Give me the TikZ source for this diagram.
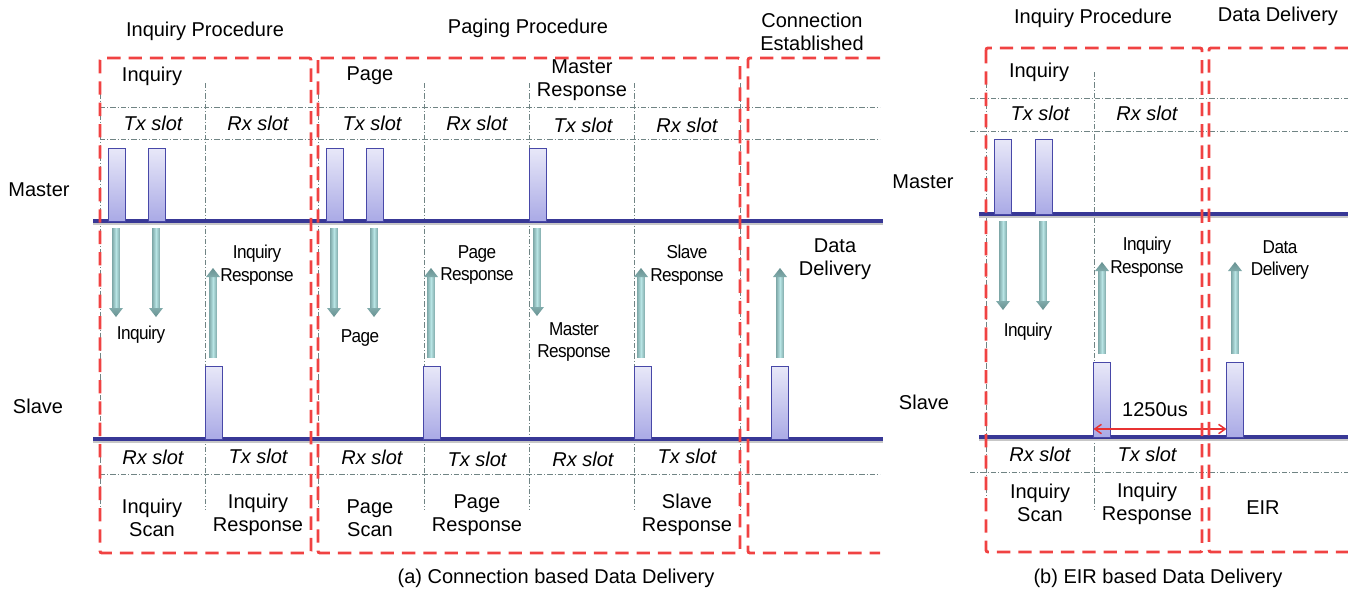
\documentclass[tikz,border=0pt]{standalone}
\usepackage{fontspec}
\setmainfont{Liberation Sans}
\newfontfamily\tightfont{Liberation Sans}[FakeStretch=0.92, LetterSpace=-3]
\usetikzlibrary{arrows.meta}

\definecolor{dashred}{RGB}{240,66,66}
\definecolor{gridgray}{RGB}{112,132,132}
\definecolor{busblue}{RGB}{56,56,150}
\definecolor{pulsetop}{RGB}{232,232,248}
\definecolor{pulsebot}{RGB}{170,170,230}
\definecolor{pulseedge}{RGB}{72,72,168}
\definecolor{flowlight}{RGB}{184,228,228}
\definecolor{flowedge}{RGB}{128,170,170}
\definecolor{flowhead}{RGB}{104,146,146}
\definecolor{spanred}{RGB}{232,50,50}

% shaded block arrows: x, y of tail, y of tip
\newcommand\flowdown[3]{%
  \shade[left color=flowedge, right color=flowedge, middle color=flowlight]
    (#1-3.8,#2) rectangle (#1+3.8,#3-9);
  \shade[top color=flowhead!70!flowlight, bottom color=flowhead]
    (#1+7,#3-9) -- (#1,#3) -- (#1-7,#3-9) -- cycle;}
\newcommand\flowup[3]{%
  \shade[left color=flowedge, right color=flowedge, middle color=flowlight]
    (#1-3.8,#2) rectangle (#1+3.8,#3+9);
  \shade[bottom color=flowhead!70!flowlight, top color=flowhead]
    (#1+7,#3+9) -- (#1,#3) -- (#1-7,#3+9) -- cycle;}

\tikzset{
  every node/.style={inner sep=0pt, outer sep=0pt},
  lbl/.style={font=\fontsize{15}{17.5}\selectfont, align=center},
  slot/.style={font=\fontsize{15}{17.5}\selectfont\itshape},
  flowlbl/.style={font=\tightfont\fontsize{14}{17.2}\selectfont, align=center},
  phase/.style={draw=dashred, line width=2.2pt, dash pattern=on 10pt off 6pt, rounded corners=1.5pt},
  gridln/.style={draw=gridgray, line width=0.6pt, dash pattern=on 4pt off 1.5pt on 0.8pt off 1.5pt},
  bus/.style={draw=busblue, line width=2.5pt},
  busshadow/.style={draw=black!22, line width=1.5pt},
  pulse/.style={draw=pulseedge, line width=0.6pt, top color=pulsetop, bottom color=pulsebot,
    minimum width=12.75pt, anchor=south},
  pulsea/.style={pulse, minimum height=54.75pt},
  pulseb/.style={pulse, minimum height=56.25pt},
}

\begin{document}
\begin{tikzpicture}[x=0.75pt, y=-0.75pt]
\useasboundingbox (0,0) rectangle (1348,589);

% ---------------- (a) connection based delivery ----------------
% slot grid
\foreach \y in {107,139,474} \draw[gridln] (100,\y) -- (880,\y);
\foreach \x in {100,205,318,424,529,634,740} \draw[gridln] (\x,83) -- (\x,510);

% master / slave time lines
\coordinate (aMs) at (93,221);  \coordinate (aMe) at (883,221);
\coordinate (aSs) at (93,439);  \coordinate (aSe) at (883,439);
\draw[busshadow] ([yshift=-2pt]aMs) -- ([yshift=-2pt]aMe);
\draw[busshadow] ([yshift=-2pt]aSs) -- ([yshift=-2pt]aSe);
\draw[bus] (aMs) -- (aMe);
\draw[bus] (aSs) -- (aSe);

% master transmissions
\node[pulsea] (am1) at (116.5,221) {};
\node[pulsea] (am2) at (156.5,221) {};
\node[pulsea] (am3) at (334.5,221) {};
\node[pulsea] (am4) at (374.5,221) {};
\node[pulsea] (am5) at (538,221) {};
% slave transmissions
\node[pulsea] (as1) at (213.5,439) {};
\node[pulsea] (as2) at (432,439) {};
\node[pulsea] (as3) at (642.5,439) {};
\node[pulsea] (as4) at (780,439) {};

% message flows
\flowdown{116}{228}{317}
\flowdown{156}{228}{317}
\flowdown{334}{228}{317}
\flowdown{374}{228}{317}
\flowdown{537}{228}{316}
\flowup{213}{357}{268}
\flowup{431}{357}{268}
\flowup{641}{357}{268}
\flowup{780}{357}{268}

% phases
\draw[phase] (100,58) rectangle (311,553);
\draw[phase] (318,58) rectangle (740,553);
\draw[phase] (880,58) -- (748,58) -- (748,553) -- (880,553);

% labels
\node[lbl] (aT1) at (205,31) {Inquiry Procedure};
\node[lbl] (aT2) at (528,28) {Paging Procedure};
\node[lbl] (aT3) at (812,32) {Connection\\Established};
\node[lbl] (aP1) at (152,76) {Inquiry};
\node[lbl] (aP2) at (370,76) {Page};
\node[lbl] (aP3) at (582,80) {Master\\Response};
\node[slot] (aTx1) at (153,123) {Tx slot};
\node[slot] (aRx1) at (258,123) {Rx slot};
\node[slot] (aTx2) at (372,123) {Tx slot};
\node[slot] (aRx2) at (477,123) {Rx slot};
\node[slot] (aTx3) at (583,125) {Tx slot};
\node[slot] (aRx3) at (687,125) {Rx slot};
\node[lbl] (aMaster) at (39,190) {Master};
\node[lbl] (aSlave) at (38,406) {Slave};

\node[flowlbl] (aF1) at (141,335) {Inquiry};
\node[flowlbl] (aF2) at (257,265) {Inquiry\\Response};
\node[flowlbl] (aF3) at (360,338) {Page};
\node[flowlbl] (aF4) at (477,265) {Page\\Response};
\node[flowlbl] (aF5) at (574,342) {Master\\Response};
\node[flowlbl] (aF6) at (687,265) {Slave\\Response};
\node[lbl] (aF7) at (835,259) {Data\\Delivery};

\node[slot] (aRx4) at (153,457) {Rx slot};
\node[slot] (aTx4) at (258,456) {Tx slot};
\node[slot] (aRx5) at (372,457) {Rx slot};
\node[slot] (aTx5) at (477,459) {Tx slot};
\node[slot] (aRx6) at (583,459) {Rx slot};
\node[slot] (aTx6) at (687,456) {Tx slot};
\node[lbl] (aS1) at (152,518) {Inquiry\\Scan};
\node[lbl] (aS2) at (258,515) {Inquiry\\Response};
\node[lbl] (aS3) at (370,518) {Page\\Scan};
\node[lbl] (aS4) at (477,515) {Page\\Response};
\node[lbl] (aS5) at (687,515) {Slave\\Response};
\node[lbl] (aCap) at (556,578) {(a) Connection based Data Delivery};

% ---------------- (b) EIR based delivery ----------------
\foreach \y in {98,131,472} \draw[gridln] (970,\y) -- (1348,\y);
\foreach \x in {986,1094} \draw[gridln] (\x,72) -- (\x,510);

\coordinate (bMs) at (979,214);  \coordinate (bMe) at (1348,214);
\coordinate (bSs) at (979,437);  \coordinate (bSe) at (1348,437);
\draw[busshadow] ([yshift=-2pt]bMs) -- ([yshift=-2pt]bMe);
\draw[busshadow] ([yshift=-2pt]bSs) -- ([yshift=-2pt]bSe);
\draw[bus] (bMs) -- (bMe);
\draw[bus] (bSs) -- (bSe);

\node[pulseb] (bm1) at (1003,214) {};
\node[pulseb] (bm2) at (1044,214) {};
\node[pulseb] (bs1) at (1102,437) {};
\node[pulseb] (bs2) at (1235,437) {};

\flowdown{1003}{221}{310}
\flowdown{1043}{221}{310}
\flowup{1102}{353}{262}
\flowup{1235}{353}{262}

% slot spacing between inquiry response and EIR
\coordinate (gapL) at (bs1.south west |- 0,429);
\coordinate (gapR) at (bs2.south west |- 0,429);
\draw[spanred, line width=1.1pt, {Straight Barb[length=5pt,width=7pt]}-{Straight Barb[length=5pt,width=7pt]}] (gapL) -- (gapR);
\node[lbl] (bGap) at (1155,410) {1250us};

\draw[phase] (986,48) rectangle (1202,552);
\draw[phase] (1348,48) -- (1209,48) -- (1209,552) -- (1348,552);

\node[lbl] (bT1) at (1093,18) {Inquiry Procedure};
\node[lbl] (bT2) at (1278,16) {Data Delivery};
\node[lbl] (bP1) at (1039,72) {Inquiry};
\node[slot] (bTx1) at (1040,113) {Tx slot};
\node[slot] (bRx1) at (1147,113) {Rx slot};
\node[lbl] (bMaster) at (923,182) {Master};
\node[lbl] (bSlave) at (924,402) {Slave};
\node[flowlbl] (bF1) at (1028,332) {Inquiry};
\node[flowlbl] (bF2) at (1147,257) {Inquiry\\Response};
\node[flowlbl] (bF3) at (1280,260) {Data\\Delivery};
\node[slot] (bRx2) at (1040,454) {Rx slot};
\node[slot] (bTx2) at (1147,454) {Tx slot};
\node[lbl] (bS1) at (1040,503) {Inquiry\\Scan};
\node[lbl] (bS2) at (1147,504) {Inquiry\\Response};
\node[lbl] (bS3) at (1263,508) {EIR};
\node[lbl] (bCap) at (1158,578) {(b) EIR based Data Delivery};
\end{tikzpicture}
\end{document}
